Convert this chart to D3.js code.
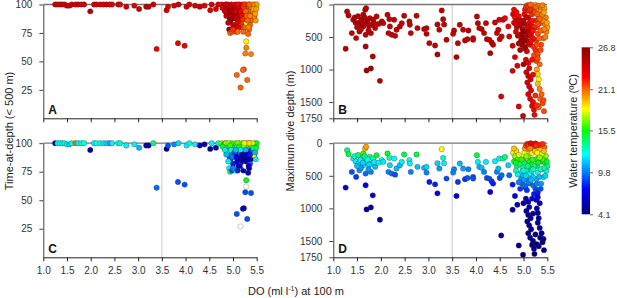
<!DOCTYPE html>
<html>
<head>
<meta charset="utf-8">
<script src="https://cdn.jsdelivr.net/npm/d3@7"></script>
<style>
  body { margin: 0; background: #fff; }
  text { font-family: "Liberation Sans", Arial, sans-serif; }
</style>
</head>
<body>
<div id="chart"></div>
<script>
// ---- data: panels A / C (time-at-depth) ----
const doAC = [
  1.25,1.3,1.35,1.4,1.45,1.5,1.55,1.6,1.68,1.73,
  1.8,1.86,1.99,2.07,2.12,2.2,2.27,2.33,2.4,2.45,
  2.58,2.62,2.75,2.92,3.02,3.17,3.22,3.32,3.39,3.6,
  3.63,3.76,3.85,3.84,3.98,4.02,4.08,4.2,4.3,4.4,
  4.52,4.55,4.64,4.69,
  4.76,4.8,4.84,4.88,4.9,4.92,4.93,4.95,4.92,4.94,
  4.98,5.06,5.05,5.0,4.97,5.0,5.02,5.05,5.08,5.1,
  5.12,5.15,5.14,5.18,5.2,5.22,5.24,5.25,5.2,5.18,
  5.22,5.26,5.28,5.28,5.28,5.26,5.38,5.23,5.21,5.08,
  5.3,5.16,5.3,5.32,5.35,5.3,5.32,5.36,5.4,5.42,
  5.38,5.34,5.32,5.45,5.48,5.46,5.5,5.44,5.28,5.26,
  5.14,5.1,4.97,4.86,5.02,4.87,4.82,5.16,5.36,5.4,
  5.44,
  4.78,4.83,4.86,4.9,4.94,4.96,4.99,5.03,5.07,5.09,
  5.12,5.13,5.16,5.19,5.21,5.23,5.27,5.29,5.31,5.33,
  5.36,5.38,5.41,5.43,5.47,5.49,5.34,5.24,5.06,4.9,
  5.0,5.1
]
const tadAC = [
  100,100,100,100,100,99,99,100,100,100,
  100,100,94,100,100,100,100,100,100,100,
  100,100,98,99,96,98,98,100,61,95,
  98,99,100,66,63.7,98,100,99,98,99,
  95,100,96,100,
  100,99,100,98,96,93,88,86,78,75,
  76,76,80,82,91,95,98,100,97,93,
  89,86,95,99,100,96,92,88,84,80,
  76,80,84,67.5,62,57,56.4,43,42.5,38,
  33.6,27,88,92,95,97,100,100,98,94,
  86,78,74,90,86,100,100,97,98,100,
  100,100,100,100,88,92,96,91,82,90,
  89.5,
  97,94,90,100,98,94,88,92,88,84,
  80,97,94,90,87,98,94,90,86,80,
  90,98,100,96,92,96,100,100,94,84,
  78,76
]
const tempA = [
  24.5,24.5,24,24.5,24,24.5,24,24.5,24,24.5,
  24,24.5,25.5,24,24.5,24,24,24.5,24,24,
  24.5,24,24.5,24,24.5,25,25,24.5,23.5,24.5,
  24,24,24.5,23.5,23.5,24,24,24,24.5,24,
  24,24,24,24,
  23,24,24.5,25,25.5,26,26,26.5,26.5,21,
  21.5,21.5,24,24.5,25,25,24,23,24,25,
  24,23,24,23,22,21.5,21.5,21,22,21.5,
  21,21,18,18.5,20.5,20.5,20.5,21,21,21,
  21,21,21,21,21,21,21,20.5,20.5,20.5,
  21,21,21,20.5,20,20.5,20,20.5,21.5,21.5,
  23,23,24,24,25,24.5,24,23.5,21,21,
  20.5,
  24,24.5,25,24,25,25.5,26,25,24.5,24,
  23.5,24,23,23,22,21.5,21,21,21,20.5,
  20.5,20.5,20.5,20,20,20,21,22,24.5,25,
  22,21
]
const tempC = [
  6,13,12.5,12,12.5,12,11.5,13,21,12,
  13,12.5,5,12,12.5,13,12,11.5,10.5,12,
  12.5,13,12,12,11,5.5,5,14,9.5,5,
  9,10,11.5,9,9,12,13,12,6,5.5,
  5,12,5.5,13,
  17,16,15,14,12,11,10,9,12,14,
  9,12,13,8,10,12,15,17,14,8,
  6,7,11,16,18,13,6,5,5.5,7,
  5,null,6,15,null,9,9,5.5,6,9,
  9,null,6,5,7,12,17,18,14,10,
  5,6,5.5,9,12,17,15,13,16,19,
  17,16.5,16,18,9,13,14,10,9,11,
  18,
  15,12,11,17,16,13,10,9,7,6,
  6,15,12,6,5,17,11,6,5,6,
  8,16,18,14,11,15,19,18,11,12,
  10,8
]

// ---- data: panels B / D (maximum dive depth) ----
const doBD = [
  1.29,1.32,1.26,1.39,1.42,1.48,1.47,1.53,1.55,1.6,
  1.63,1.67,1.69,1.63,1.7,1.68,1.68,1.77,1.81,1.79,
  1.84,1.88,1.91,1.83,1.7,1.79,1.98,2.02,2.05,2.14,
  2.18,2.19,2.16,2.23,2.28,2.3,2.33,2.4,2.44,2.49,
  2.6,2.61,2.63,2.75,2.77,2.91,2.96,2.96,3.02,3.14,
  3.19,3.28,3.31,3.33,3.19,3.23,3.38,3.54,3.52,3.62,
  3.59,3.66,3.73,3.77,3.82,3.84,3.94,3.94,4.02,4.04,
  4.07,4.12,4.17,4.21,4.23,4.28,4.3,4.33,4.36,4.4,
  4.44,4.47,4.5,4.54,4.53,4.49,4.57,4.61,4.68,4.7,
  4.77,4.82,4.77,4.87,4.9,4.99,5.23,5.0,
  1.45,1.52,1.57,1.62,1.66,1.72,1.75,1.58,1.86,1.95,
  1.74,1.5,
  4.78,4.82,4.85,4.8,4.86,4.84,4.88,4.9,4.92,4.94,
  4.95,4.97,4.99,4.98,5.0,5.02,5.03,5.05,5.08,5.1,
  5.12,5.04,5.07,5.02,5.06,5.08,5.1,5.13,5.15,5.16,
  5.14,5.18,5.2,5.22,5.25,5.24,5.26,5.28,5.3,5.27,
  5.25,5.32,5.35,5.33,5.38,5.4,5.42,5.37,5.45,5.48,
  5.5,5.47,5.44,5.3,5.18,5.2,5.12,5.22,5.3,
  5.05,5.1,5.12,5.06,5.1,5.15,5.08,5.12,5.16,5.1,
  5.14,5.2,5.18,5.22,5.28,5.3,5.32,5.3,5.34,5.38,
  5.35,5.4,5.32,5.42,5.27,5.34,5.25,5.28,5.43,5.2,
  4.8,4.84,4.88,4.9,4.93,4.96,5.0,5.01,5.03,5.06,
  5.09,5.11,5.14,5.17,5.19,5.21,5.23,5.26,5.29,5.31,
  5.33,5.36,5.39,5.41,5.44,5.46,5.49,5.36,5.28,5.2,
  5.16,5.05,5.43,5.34,5.15,5.4,5.18,5.3
]
const depthBD = [
  108,169,681,440,235,517,280,312,415,235,
  158,82,55,340,287,466,646,210,312,440,
  235,363,185,800,1015,985,1174,261,287,158,
  225,338,440,466,235,482,389,338,287,174,
  261,312,440,174,363,378,363,451,594,631,
  769,92,225,308,308,389,543,400,451,594,
  809,312,389,553,533,400,517,543,185,287,
  363,378,440,287,533,543,748,584,620,277,
  440,389,533,492,1415,235,235,210,338,492,
  635,809,1020,943,1569,1712,1697,920,
  200,180,260,300,200,250,330,380,290,300,
  400,350,
  150,200,120,280,350,420,250,180,320,460,
  550,620,500,380,250,150,80,40,10,30,
  100,680,720,300,420,560,200,280,380,480,
  620,150,60,20,5,120,250,350,450,550,
  700,180,100,30,280,400,520,620,300,420,
  350,200,60,20,330,520,470,780,760,
  850,900,980,1040,1100,1150,1200,1260,1320,1380,
  1450,1500,1560,1620,1000,1070,1150,1220,1300,1380,
  1450,1520,1580,1470,870,920,1400,1550,1640,1080,
  80,300,480,600,700,250,420,560,650,200,
  350,600,80,420,250,650,350,40,150,300,
  520,400,160,250,380,500,280,700,620,400,
  560,500,120,220,0,10,850,830
]
const tempB = [
  25,25,25.5,25,25,25,25.5,25,25,25,
  25,25,25,25,25,25,25.5,25,25,25,
  25,25,25,25.5,26,26,25.5,25,25,25,
  25,25,25,25,25,25,25,25,25,25,
  25,25,25,25,25,25,25,25,25,25,
  25.5,25,25,25,25,25,25,25,25,25,
  25.5,25,25,25,25,25,25,25,25,25,
  25,25,25,25,25,25,25.5,25,25,24.5,
  24.5,24.5,24.5,24.5,24,24,24,23.5,23.5,24,
  24,24,24,24,24,24.5,23,26,
  25.5,25.5,25,25.5,25,25.5,25,25,25,25,
  25,25,
  23.5,23,23,24,24.5,24,24,23,25,25.5,
  26,26,26.5,25.5,24,23,22.5,22,21.5,22,
  22,25,24,25,25,24,23,23.5,23,23,
  22.5,22,21.5,21,20,21.5,22,21.5,21.5,22,
  22,21,20.5,20,21,21,21,21.5,20.5,20.5,
  20,20.5,20,20.5,23,22.5,24,21.5,21.5,
  24,23.5,24,24,24.5,24,24,24,23.5,24,
  23.5,23,23.5,23,20,19,18.5,19.5,20.5,21,
  21,21.5,21,21.5,21.5,21,22,22,21.5,23,
  23,24,25,25.5,26,25,26.5,26.5,26,24.5,
  24,24,22,23,22.5,22,22,21,21,21.5,
  21,21,20.5,20.5,20.5,20.5,20,21.5,21.5,22.5,
  23,25.5,20,21,21,20.5,22.5,21.5
]
const tempD = [
  14,14.5,6,9,12,8.5,12,11.5,10.5,12.5,
  16,19.5,20,11.5,12,9.5,7,14,12,10,
  13,11,15,6,5,5,4.8,12.5,12,15,
  13,11.5,10,9.5,12.5,9,11,11,12,14.5,
  12.5,12,10,14.5,11,11,11.5,10,8,8,
  7,18.5,13,12,11.5,10.5,9,10,10,8.5,
  6.5,11,10.5,8.5,9,10,9,9,14.5,12,
  11,11,10,12,9,9,6.5,8.5,8,12,
  10,11,9,9.5,5,13,13,14,11.5,9.5,
  8,6.5,5,5.5,4.5,4.3,4.3,5,
  13,14,12,11.5,14,12.5,11.5,10.5,12,12,
  10.5,11,
  18,17,19,15,14,13,16,18,14,12,
  10.5,9.5,11,13,16,18.5,20,21.5,22.5,22,
  20,9,8.5,14.5,12.5,10.5,17,15.5,13.5,12,
  10,18.5,21,22,23,19.5,16,14,12.5,11,
  9,18,19.5,21.5,15.5,13,11.5,10.5,14.5,12.5,
  13.5,17,21,22,14.5,11.5,12.5,8,8,
  6,5.5,5.2,5,4.8,4.7,4.6,4.6,4.5,4.5,
  4.4,4.4,4.3,4.3,5.2,5,4.8,4.7,4.6,4.5,
  4.5,4.4,4.4,4.4,6,5.5,4.5,4.4,4.3,4.8,
  19.5,15,12,10,8.5,16,13,10.5,9.5,17,
  14,10,20.5,13,16,9.5,14,22,18.5,15,
  11,13,18,16,13.5,11.5,15,9,10,13,
  11,11.5,19.5,17,23.5,22,6.5,7
]

// ---- axis ticks / colour bar ----
const doTicks = [1.0,1.5,2.0,2.5,3.0,3.5,4.0,4.5,5.0,5.5]
const tadTicks = [25,50,75,100]
const depthTicks = [0,500,1000,1500,1750]
const tempTicks = [4.1,9.8,15.5,21.1,26.8]

const svg = d3.select("#chart").append("svg")
  .attr("width", 617).attr("height", 298)

// jet-like colour map
const TMIN = 4.1, TMAX = 26.8
const jetStops = [0, 0.15, 0.36, 0.5, 0.63, 0.82, 1]
const jetCols = ["#00007f", "#0000ff", "#00ffff", "#00ff00", "#ffff00", "#ff0000", "#8c0000"]
const color = d3.scaleLinear()
  .domain(jetStops.map(t => TMIN + t * (TMAX - TMIN)))
  .range(jetCols)
  .clamp(true)

// panel geometry
const xLeft = d3.scaleLinear().domain([1, 5.5]).range([43.3, 256.7])
const xRight = d3.scaleLinear().domain([1, 5.5]).range([333.3, 547.3])
const topRow = {y0: 4.5, y1: 118.3}
const botRow = {y0: 143.2, y1: 257.3}

function panel(x, y, yTicks, yFmt, showX, letter, pts) {
  const g = svg.append("g")
  const [r0, r1] = y.range()
  const top = Math.min(r0, r1), bot = Math.max(r0, r1)

  // grey reference line at DO 3.5
  g.append("line")
    .attr("x1", x(3.5)).attr("x2", x(3.5))
    .attr("y1", top).attr("y2", bot)
    .attr("stroke", "#c8c8c8").attr("stroke-width", 1)

  // top line across the plot
  g.append("line")
    .attr("x1", x(1)).attr("x2", x(5.5))
    .attr("y1", top).attr("y2", top)
    .attr("stroke", "#777").attr("stroke-width", 1.3)

  // x axis
  const xa = g.append("g")
    .attr("transform", "translate(0," + bot + ")")
    .call(d3.axisBottom(x).tickValues(doTicks).tickSize(4).tickSizeOuter(0).tickPadding(6)
      .tickFormat(showX ? d3.format(".1f") : ""))
  xa.select(".domain").attr("stroke", "#222")
  xa.selectAll(".tick line").attr("stroke", "#222")
  xa.selectAll("text").attr("font-size", 10).attr("fill", "#333")
    .attr("font-family", "Liberation Sans, Arial, sans-serif")

  // y axis
  const ya = g.append("g")
    .attr("transform", "translate(" + x(1) + ",0)")
    .call(d3.axisLeft(y).tickValues(yTicks).tickSize(4).tickSizeOuter(0).tickPadding(7).tickFormat(yFmt))
  ya.select(".domain").attr("stroke", "#444")
  ya.selectAll(".tick line").attr("stroke", "#444")
  ya.selectAll("text").attr("font-size", 10).attr("fill", "#333")
    .attr("font-family", "Liberation Sans, Arial, sans-serif")

  // points
  g.append("g").selectAll("circle")
    .data(pts)
    .enter()
    .append("circle")
    .attr("cx", d => x(d.x))
    .attr("cy", d => y(d.y))
    .attr("r", 2.7)
    .attr("fill", d => d.t == null ? "#fff" : color(d.t))
    .attr("stroke", d => d.t == null ? "#aaa" : "#3a1a1a")
    .attr("stroke-opacity", d => d.t == null ? 1 : 0.5)
    .attr("stroke-width", 0.6)

  // panel letter
  g.append("text")
    .attr("x", x(1) + 5).attr("y", bot - 4)
    .attr("font-size", 12).attr("font-weight", "bold").attr("fill", "#111")
    .text(letter)
}

const ptsA = doAC.map((v, i) => ({x: v, y: tadAC[i], t: tempA[i]}))
const ptsC = doAC.map((v, i) => ({x: v, y: tadAC[i], t: tempC[i]}))
const ptsB = doBD.map((v, i) => ({x: v, y: depthBD[i], t: tempB[i]}))
const ptsD = doBD.map((v, i) => ({x: v, y: depthBD[i], t: tempD[i]}))

const yA = d3.scaleLinear().domain([0, 100]).range([topRow.y1, topRow.y0])
const yC = d3.scaleLinear().domain([0, 100]).range([botRow.y1, botRow.y0])
const yB = d3.scaleLinear().domain([0, 1750]).range([topRow.y0, topRow.y1])
const yD = d3.scaleLinear().domain([0, 1750]).range([botRow.y0, botRow.y1])

panel(xLeft, yA, tadTicks, d3.format("d"), false, "A", ptsA)
panel(xRight, yB, depthTicks, d3.format("d"), false, "B", ptsB)
panel(xLeft, yC, tadTicks, d3.format("d"), true, "C", ptsC)
panel(xRight, yD, depthTicks, d3.format("d"), true, "D", ptsD)

// axis titles
svg.append("text")
  .attr("transform", "translate(13,131) rotate(-90)")
  .attr("text-anchor", "middle").attr("font-size", 11).attr("fill", "#222")
  .text("Time-at-depth (< 500 m)")

svg.append("text")
  .attr("transform", "translate(294,131) rotate(-90)")
  .attr("text-anchor", "middle").attr("font-size", 11).attr("fill", "#222")
  .text("Maximum dive depth (m)")

const xt = svg.append("text")
  .attr("x", 296).attr("y", 295)
  .attr("text-anchor", "middle").attr("font-size", 11).attr("fill", "#222")
xt.append("tspan").text("DO (ml l")
xt.append("tspan").attr("font-size", 7).attr("dy", -4).text("-1")
xt.append("tspan").attr("dy", 4).text(") at 100 m")

// colour bar
const cbar = d3.scaleLinear().domain([TMIN, TMAX]).range([214.3, 47.3])
const grad = svg.append("defs").append("linearGradient")
  .attr("id", "jet").attr("x1", 0).attr("x2", 0).attr("y1", 1).attr("y2", 0)
grad.selectAll("stop")
  .data(jetStops)
  .enter()
  .append("stop")
  .attr("offset", d => d)
  .attr("stop-color", (d, i) => jetCols[i])

svg.append("rect")
  .attr("x", 581.7).attr("y", cbar(TMAX))
  .attr("width", 8.3).attr("height", cbar(TMIN) - cbar(TMAX))
  .attr("fill", "url(#jet)")

const ca = svg.append("g")
  .attr("transform", "translate(590,0)")
  .call(d3.axisRight(cbar).tickValues(tempTicks).tickSize(3).tickSizeOuter(0).tickPadding(5).tickFormat(d3.format(".1f")))
ca.select(".domain").remove()
ca.selectAll(".tick line").attr("stroke", "#666")
ca.selectAll("text").attr("font-size", 9).attr("fill", "#333")
  .attr("font-family", "Liberation Sans, Arial, sans-serif")

svg.append("text")
  .attr("transform", "translate(577,131) rotate(-90)")
  .attr("text-anchor", "middle").attr("font-size", 11).attr("fill", "#222")
  .text("Water temperature (ºC)")
</script>
</body>
</html>
